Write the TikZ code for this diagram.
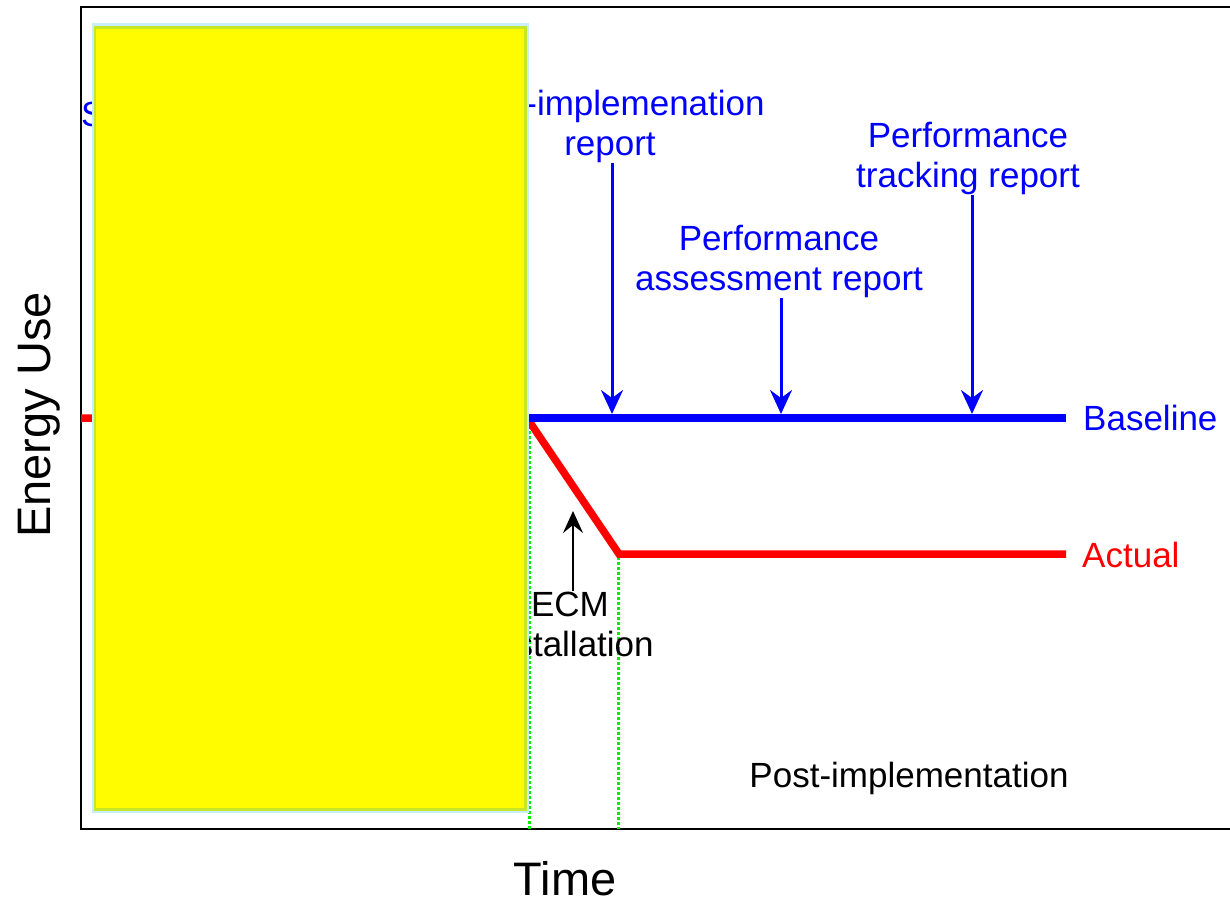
\documentclass[tikz,border=0pt]{standalone}
\usepackage{fontspec}
\setmainfont{Liberation Sans}
\usetikzlibrary{arrows.meta}
\definecolor{pblue}{RGB}{0,0,255}
\definecolor{pred}{RGB}{255,0,0}
\definecolor{pgreen}{RGB}{0,240,0}
\definecolor{pyellow}{RGB}{255,252,0}
\definecolor{pcyan}{RGB}{200,238,250}
\definecolor{pygreen}{RGB}{200,230,40}
\begin{document}
\begin{tikzpicture}[x=1pt,y=-1pt,
  lbl/.style={font=\fontsize{35}{40}\selectfont, inner sep=0pt, align=center},
  axislbl/.style={font=\fontsize{47}{52}\selectfont, inner sep=0pt},
  bluearrow/.style={pblue, line width=3pt, -{Stealth[length=24pt,width=22pt,inset=8pt]}},
  blackarrow/.style={black, line width=2.4pt, -{Stealth[length=22pt,width=20pt,inset=8pt]}},
  series/.style={line width=7.5pt},
  guide/.style={pgreen, line width=3pt, dash pattern=on 2.5pt off 2.5pt}]
\useasboundingbox (0,0) rectangle (1230,903);
\fill[white] (0,0) rectangle (1230,903);
% frame
\begin{scope}
\clip (0,0) rectangle (1230,903);
\draw[line width=2pt] (1240,7) -- (81,7) -- (81,829) -- (1240,829);
\end{scope}
% coordinates
\coordinate (start) at (81,418);
\coordinate (impl) at (527,418);
\coordinate (low) at (619,554);
\coordinate (bend) at (1066,418);
\coordinate (aend) at (1066,554);
\coordinate (g1top) at (529,421);
\coordinate (g1bot) at (529,829);
\coordinate (g2top) at (618,557);
\coordinate (g2bot) at (618,829);
% guides
\draw[guide] (g1top) -- (g1bot);
\draw[guide] (g2top) -- (g2bot);
% series
\draw[series, pred, line join=miter] (start) -- (impl) -- (low) -- (aend);
\draw[series, pblue] (impl) -- (bend);
% labels
\node[lbl, text=pblue, anchor=base west] (plan) at (81,126) {S};
\node[lbl, text=pblue] (postrep) at (610,126) {Post-implemenation\\report};
\node[lbl, text=pblue] (passess) at (779,261) {Performance\\assessment report};
\node[lbl, text=pblue] (ptrack) at (968,158) {Performance\\tracking report};
\node[lbl, text=pblue, anchor=base west] (baselbl) at (1083,430) {Baseline};
\node[lbl, text=pred, anchor=base west] (actlbl) at (1082,567) {Actual};
\node[lbl] (ecm) at (570,624) {ECM\\Installation};
\node[lbl, anchor=base] (postimp) at (909,787) {Post-implementation};
\node[axislbl, anchor=base] (time) at (565,895) {Time};
\node[axislbl, anchor=base, rotate=90] (energy) at (50,415) {Energy Use};
% arrows
\coordinate (t1) at (612,414);
\coordinate (t2) at (781,414);
\coordinate (t3) at (972,414);
\coordinate (t4) at (573,511);
\draw[bluearrow] (postrep.south -| t1) -- (t1);
\draw[bluearrow] (passess.south -| t2) -- (t2);
\draw[bluearrow] (ptrack.south -| t3) -- (t3);
\draw[blackarrow] (ecm.north -| t4) -- (t4);
% covering box
\fill[pcyan] (92,23) rectangle (529,813);
\fill[pygreen] (94,26) rectangle (527,811);
\fill[pyellow] (96,29) rectangle (524,808);
\end{tikzpicture}
\end{document}
